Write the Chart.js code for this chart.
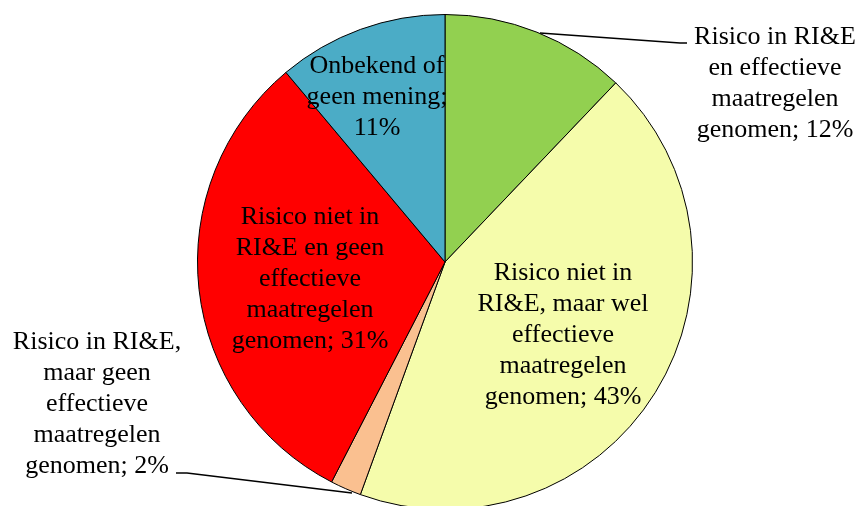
<!DOCTYPE html>
<html>
<head>
<meta charset="utf-8">
<script src="https://cdn.jsdelivr.net/npm/chart.js@4/dist/chart.umd.min.js"></script>
<style>
  html, body { margin: 0; padding: 0; background: #fff; overflow: hidden; }
  #wrap { width: 861px; height: 520px; }
</style>
</head>
<body>
<div id="wrap"><canvas id="risico_pie" width="861" height="520"></canvas></div>
<script>
// categorieen en percentages, met de klok mee vanaf boven
var categories = [
  "Risico in RI&E en effectieve maatregelen genomen",
  "Risico niet in RI&E, maar wel effectieve maatregelen genomen",
  "Risico in RI&E, maar geen effectieve maatregelen genomen",
  "Risico niet in RI&E en geen effectieve maatregelen genomen",
  "Onbekend of geen mening"
];
var percentages = [12, 43, 2, 31, 11];
var colors = ["#92D050", "#F5FCAB", "#FAC090", "#FF0000", "#4BACC6"];

// labels zoals in de grafiek afgebroken
var labelLines = [
  ["Risico in RI&E", "en effectieve", "maatregelen", "genomen; 12%"],
  ["Risico niet in", "RI&E, maar wel", "effectieve", "maatregelen", "genomen; 43%"],
  ["Risico in RI&E,", "maar geen", "effectieve", "maatregelen", "genomen; 2%"],
  ["Risico niet in", "RI&E en geen", "effectieve", "maatregelen", "genomen; 31%"],
  ["Onbekend of", "geen mening;", "11%"]
];

// plaats van de labels (midden eerste regel) en eventuele verbindingslijn
var labelPlace = [
  { x: 775, y: 37, line: [[540, 33], [680, 43], [687, 43]] },
  { x: 563, y: 273 },
  { x: 97, y: 342, line: [[176, 473], [187, 473], [352, 493]] },
  { x: 310, y: 217 },
  { x: 377, y: 66 }
];

var pieLabels = {
  id: "pieLabels",
  afterDatasetsDraw: function (chart) {
    var ctx = chart.ctx;
    ctx.save();
    ctx.font = "26px 'Liberation Serif', 'Times New Roman', serif";
    ctx.fillStyle = "#000";
    ctx.textAlign = "center";
    ctx.textBaseline = "middle";
    labelLines.forEach(function (lines, i) {
      var p = labelPlace[i];
      if (p.line) {
        ctx.beginPath();
        ctx.lineWidth = 1.5;
        ctx.strokeStyle = "#000";
        ctx.moveTo(p.line[0][0], p.line[0][1]);
        for (var k = 1; k < p.line.length; k++) ctx.lineTo(p.line[k][0], p.line[k][1]);
        ctx.stroke();
      }
      lines.forEach(function (t, j) {
        ctx.fillText(t, p.x, p.y + j * 31);
      });
    });
    ctx.restore();
  }
};

new Chart(document.getElementById("risico_pie"), {
  type: 'pie',
  data: {
    labels: categories,
    datasets: [{
      data: percentages,
      backgroundColor: colors,
      borderColor: "#000",
      borderWidth: 1
    }]
  },
  options: {
    responsive: false,
    animation: false,
    layout: { padding: { left: 197, right: 168, top: 14, bottom: 10 } },
    plugins: {
      legend: { display: false },
      tooltip: { enabled: false }
    }
  },
  plugins: [pieLabels]
});
</script>
</body>
</html>
